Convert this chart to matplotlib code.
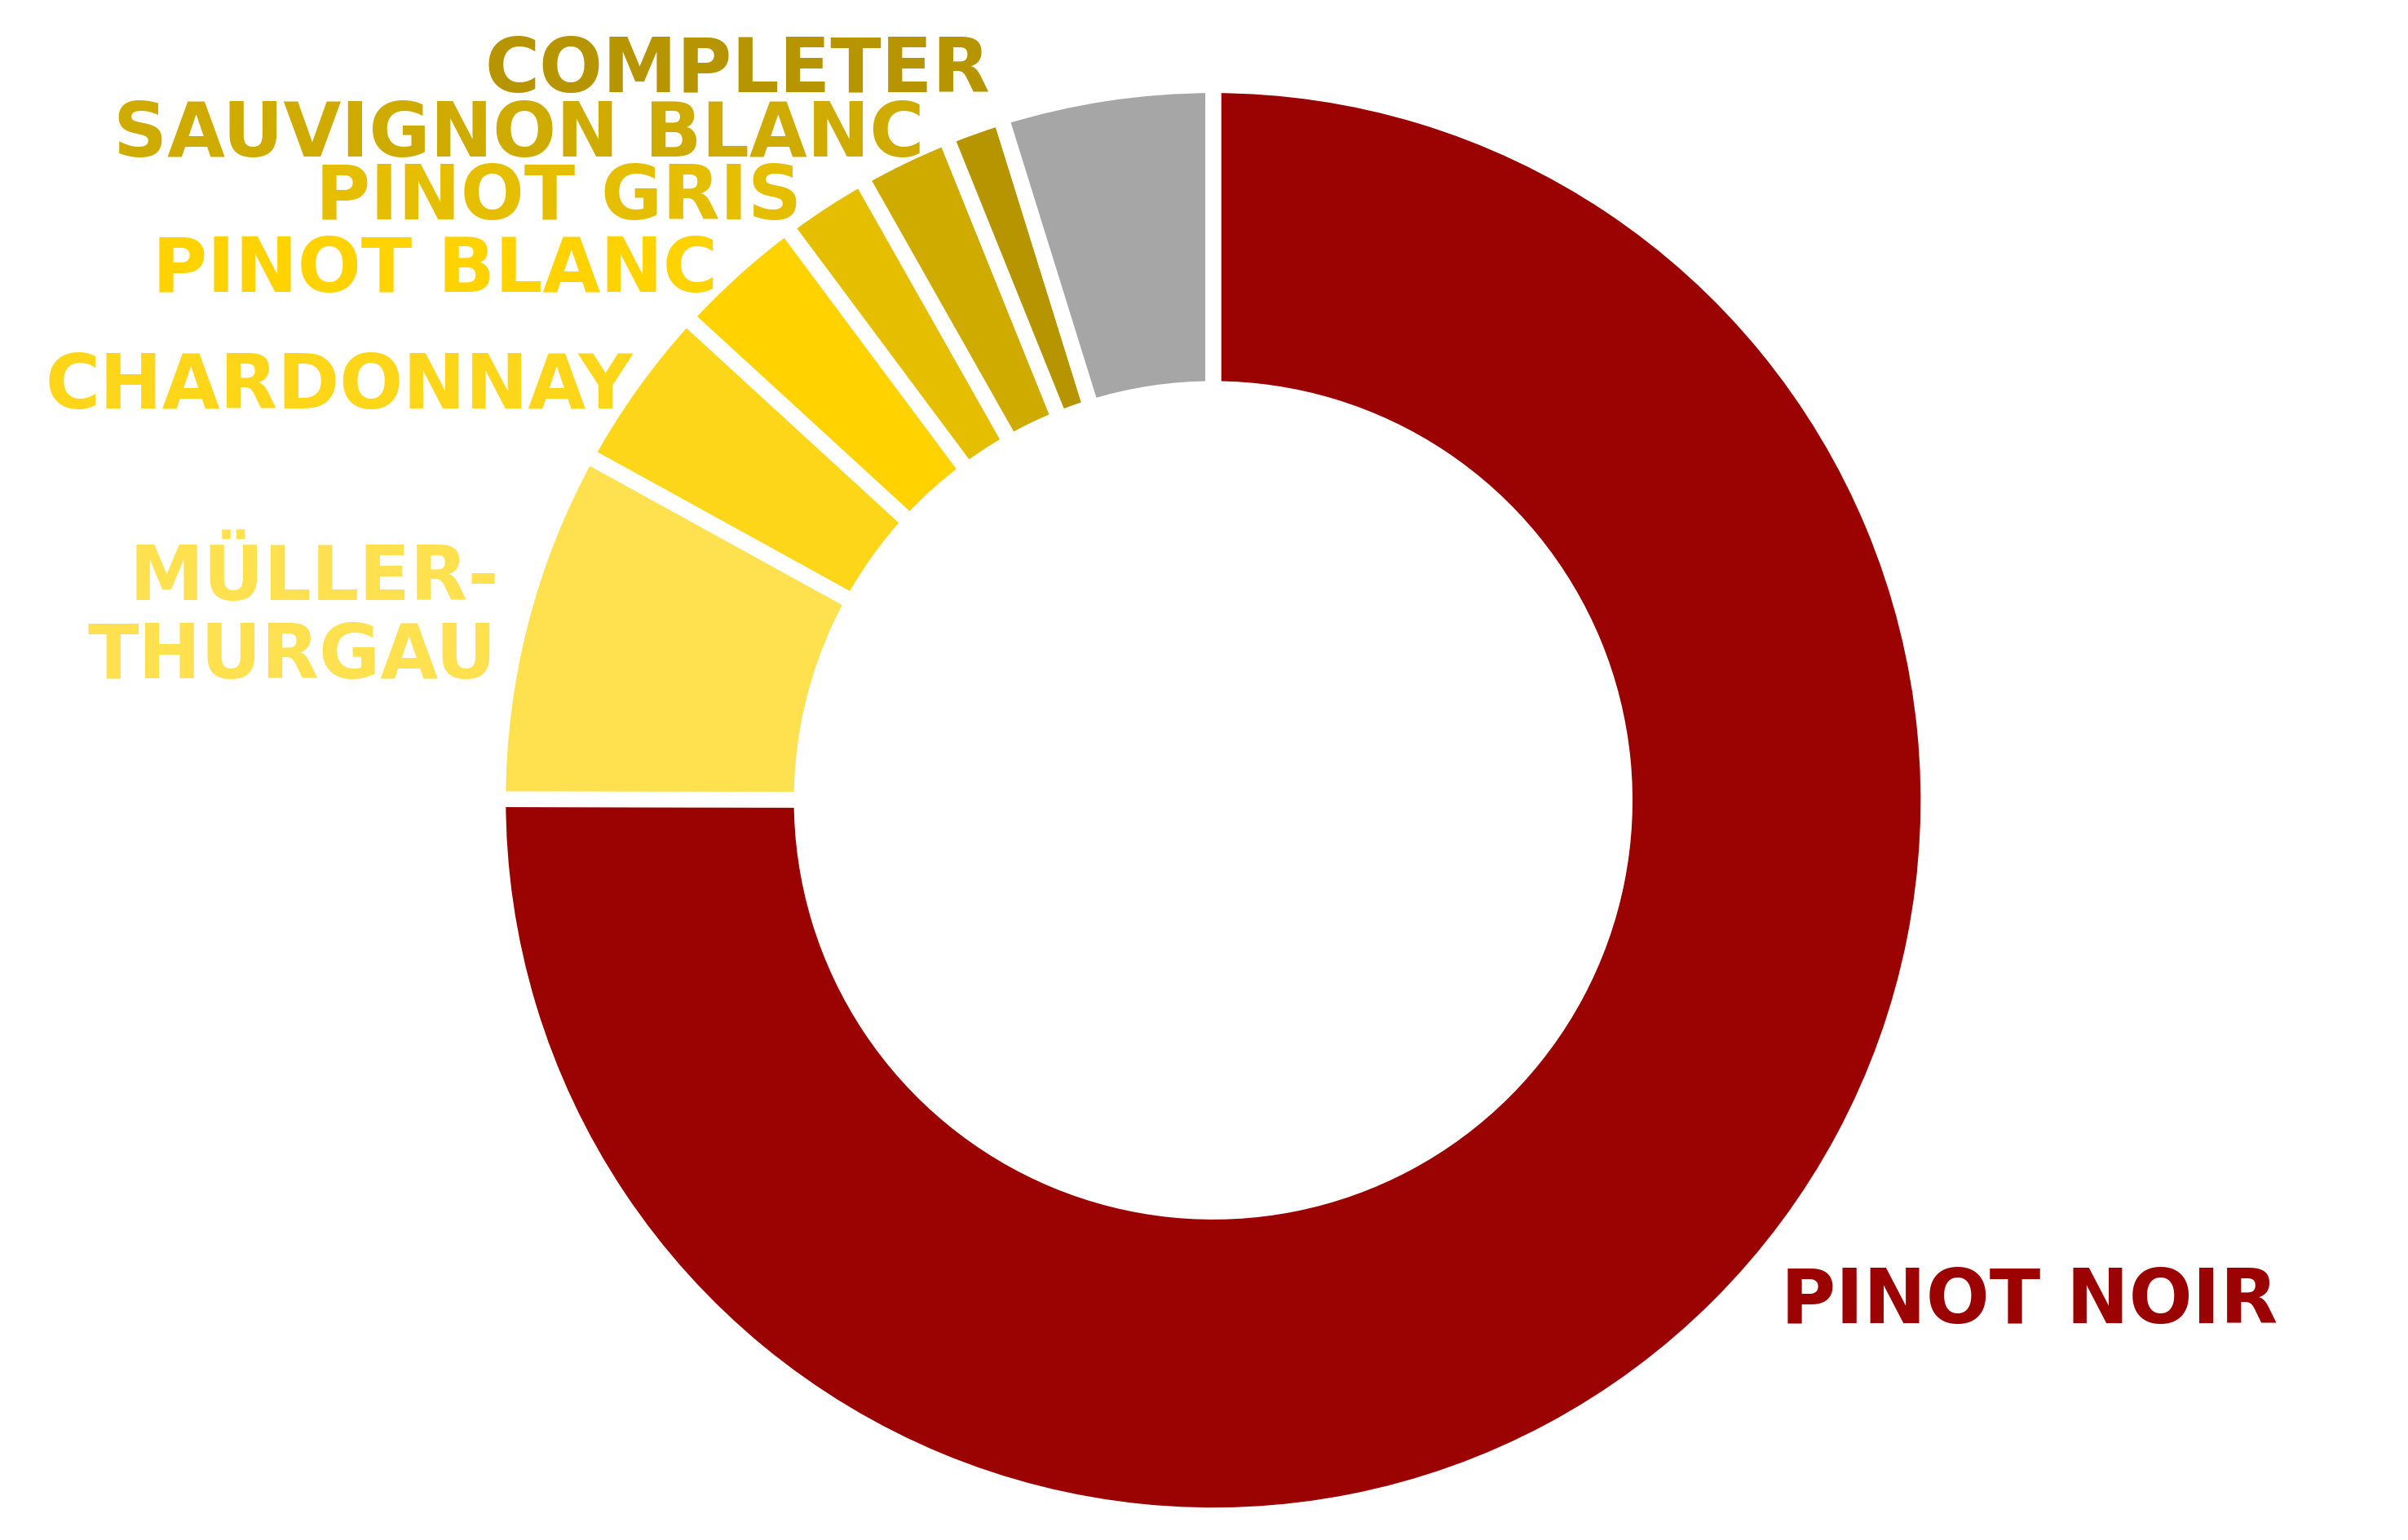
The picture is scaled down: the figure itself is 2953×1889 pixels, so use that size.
import matplotlib.pyplot as plt

# grape varieties, share of vineyard area (%)
varieties = ['PINOT NOIR', 'MÜLLER-\nTHURGAU', 'CHARDONNAY', 'PINOT BLANC',
             'PINOT GRIS', 'SAUVIGNON BLANC', 'COMPLETER', 'OTHER']
shares = [75.1, 8.0, 3.8, 3.0, 2.0, 2.1, 1.3, 4.8]
colors = ['#9B0202', '#FFE04E', '#FDD61A', '#FFD200',
          '#E6BE00', '#CFAB00', '#B79500', '#A6A6A6']

fig = plt.figure(figsize=(29.53, 18.9), dpi=100)
ax = fig.add_axes([0, 0, 1, 1])

W, H = 1568, 1004
cx, cy = 790, H - 522
ax.pie(shares, colors=colors, startangle=90, counterclock=False,
       radius=466, center=(cx, cy),
       wedgeprops=dict(width=198, edgecolor='white', linewidth=14))
ax.set_xlim(0, W)
ax.set_ylim(0, H)
ax.axis('off')

fs = 66
# labels on the left, right aligned (x right edge, baseline y)
left_labels = [
    ('COMPLETER', 645, 60, colors[6]),
    ('SAUVIGNON BLANC', 602, 102, colors[5]),
    ('PINOT GRIS', 522, 143, colors[4]),
    ('PINOT BLANC', 467, 190, colors[3]),
    ('CHARDONNAY', 412, 266, colors[2]),
    ('MÜLLER-', 325, 391, colors[1]),
    ('THURGAU', 323, 442, colors[1]),
]
for txt, x, y, c in left_labels:
    ax.text(x, H - y, txt, ha='right', va='baseline', color=c,
            fontsize=fs, fontweight='bold', family='DejaVu Sans')

ax.text(1160, H - 862, 'PINOT NOIR', ha='left', va='baseline', color=colors[0],
        fontsize=fs, fontweight='bold', family='DejaVu Sans')

fig.savefig('out.png', dpi=100, facecolor='white')
